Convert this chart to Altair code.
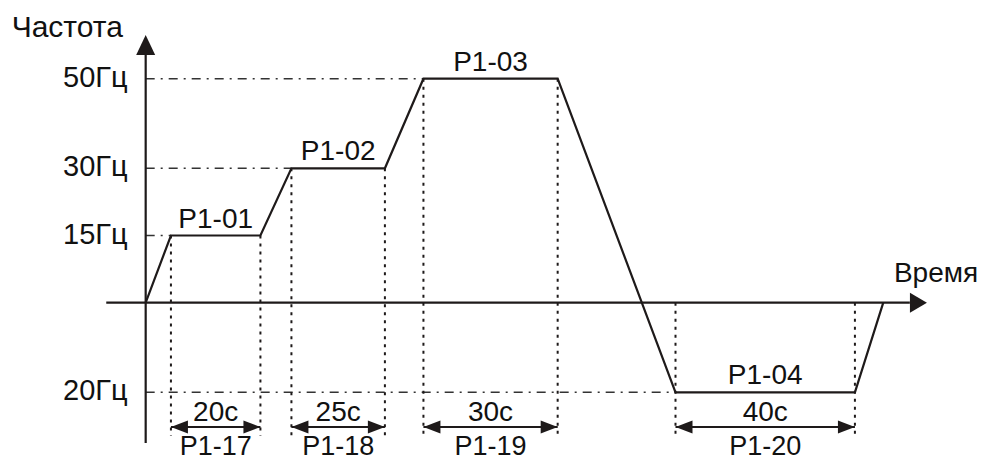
import altair as alt
import pandas as pd

# ---- data ----
levels = [15, 30, 50, -20]                       # Hz (last one is reverse)
level_labels = ["15Гц", "30Гц", "50Гц", "20Гц"]
seg_start = [5.7, 32.9, 62.7, 119.6]             # time units
seg_end = [25.9, 54.0, 93.0, 160.1]
param_labels = ["P1-01", "P1-02", "P1-03", "P1-04"]
dur_labels = ["20с", "25с", "30с", "40с"]
time_params = ["P1-17", "P1-18", "P1-19", "P1-20"]
profile_t = [0, 5.7, 25.9, 32.9, 54.0, 62.7, 93.0, 119.6, 160.1, 166.5]
profile_f = [0, 15, 15, 30, 30, 50, 50, -20, -20, 0]

x_axis_ext = [-8.9, 172.5]
y_axis_ext = [-31.3, 55.3]
x_arrow_t = 174.1
y_arrow_f = 57.5
dim_level = -27.75
dotted_bottom = -29.75

X_DOMAIN = [-31.08, 188.11]
Y_DOMAIN = [-34.44, 65.78]
FONT = "Liberation Sans"
INK = "#1e1a1a"

xs = alt.Scale(domain=X_DOMAIN, nice=False, zero=False)
ys = alt.Scale(domain=Y_DOMAIN, nice=False, zero=False)


def X(f):
    return alt.X(f, type="quantitative", scale=xs, axis=None)


def Y(f):
    return alt.Y(f, type="quantitative", scale=ys, axis=None)


segs = pd.DataFrame({
    "level": levels, "lab": level_labels, "start": seg_start, "end": seg_end,
    "param": param_labels, "dur": dur_labels, "tpar": time_params,
})
segs["x0"] = 0.0
segs["mid"] = (segs["start"] + segs["end"]) / 2
segs["dim"] = dim_level

vert_rows = []
for lv, s, e in zip(levels, seg_start, seg_end):
    for t in (s, e):
        vert_rows.append({"t": t, "top": max(lv, 0), "bot": dotted_bottom})
verts = pd.DataFrame(vert_rows)

profile = pd.DataFrame({"t": profile_t, "f": profile_f, "i": range(len(profile_t))})

axes_h = pd.DataFrame({"a": [x_axis_ext[0]], "b": [x_axis_ext[1]], "y": [0.0]})
axes_v = pd.DataFrame({"x": [0.0], "a": [y_axis_ext[0]], "b": [y_axis_ext[1]]})
arrow_up = pd.DataFrame({"x": [0.0], "y": [y_arrow_f]})
arrow_right = pd.DataFrame({"x": [x_arrow_t], "y": [0.0]})

refs = alt.Chart(segs).mark_rule(
    color="#333333", strokeWidth=1.5, strokeDash=[9, 6, 2, 6]
).encode(x=X("x0"), x2="start", y=Y("level"))

dotted = alt.Chart(verts).mark_rule(
    color=INK, strokeWidth=2, strokeDash=[3, 5]
).encode(x=X("t"), y=Y("top"), y2="bot")

line = alt.Chart(profile).mark_line(color=INK, strokeWidth=2.2).encode(
    x=X("t"), y=Y("f"), order="i:Q"
)

hax = alt.Chart(axes_h).mark_rule(color=INK, strokeWidth=2.2).encode(
    x=X("a"), x2="b", y=Y("y")
)
vax = alt.Chart(axes_v).mark_rule(color=INK, strokeWidth=2.2).encode(
    x=X("x"), y=Y("a"), y2="b"
)
up_head = alt.Chart(arrow_up).mark_point(
    shape="M0,-1L0.95,1L-0.95,1Z", size=400, filled=True, color=INK, opacity=1
).encode(x=X("x"), y=Y("y"))
right_head = alt.Chart(arrow_right).mark_point(
    shape="M1,0L-0.7,-1L-0.7,1Z", size=400, filled=True, color=INK, opacity=1
).encode(x=X("x"), y=Y("y"))

dim_rule = alt.Chart(segs).mark_rule(color=INK, strokeWidth=2).encode(
    x=X("start"), x2="end", y=Y("dim")
)
dim_left = alt.Chart(segs).mark_point(
    shape="M-1,0L1,-0.76L1,0.76Z", size=289, filled=True, color=INK, opacity=1,
    xOffset=8.5
).encode(x=X("start"), y=Y("dim"))
dim_right = alt.Chart(segs).mark_point(
    shape="M1,0L-1,-0.76L-1,0.76Z", size=289, filled=True, color=INK, opacity=1,
    xOffset=-8.5
).encode(x=X("end"), y=Y("dim"))

txt = dict(font=FONT, color="#111111")
hz_text = alt.Chart(segs).mark_text(
    align="right", baseline="alphabetic", dx=-18, dy=8, fontSize=29, **txt
).encode(x=X("x0"), y=Y("level"), text="lab:N")
par_text = alt.Chart(segs).mark_text(
    align="center", baseline="alphabetic", dy=-8, fontSize=28, **txt
).encode(x=X("mid"), y=Y("level"), text="param:N")
dur_text = alt.Chart(segs).mark_text(
    align="center", baseline="alphabetic", dy=-6, fontSize=28, **txt
).encode(x=X("mid"), y=Y("dim"), text="dur:N")
tpar_text = alt.Chart(segs).mark_text(
    align="center", baseline="alphabetic", dy=28, fontSize=27, **txt
).encode(x=X("mid"), y=Y("dim"), text="tpar:N")

title_y = alt.Chart(pd.DataFrame({"x": [0.0], "y": [y_arrow_f], "s": ["Частота"]})).mark_text(
    align="left", baseline="alphabetic", dx=-134, dy=-8, fontSize=30, **txt
).encode(x=X("x"), y=Y("y"), text="s:N")
title_x = alt.Chart(pd.DataFrame({"x": [x_arrow_t], "y": [0.0], "s": ["Время"]})).mark_text(
    align="left", baseline="alphabetic", dx=-23, dy=-21, fontSize=28, **txt
).encode(x=X("x"), y=Y("y"), text="s:N")

chart = alt.layer(
    refs, dotted, line, hax, vax, up_head, right_head,
    dim_rule, dim_left, dim_right,
    hz_text, par_text, dur_text, tpar_text, title_y, title_x,
).properties(
    width=971, height=449, padding=0,
    autosize=alt.AutoSizeParams(type="none"),
).configure_view(stroke=None)

chart.save("out.html", embed_options={"renderer": "svg", "actions": False})
